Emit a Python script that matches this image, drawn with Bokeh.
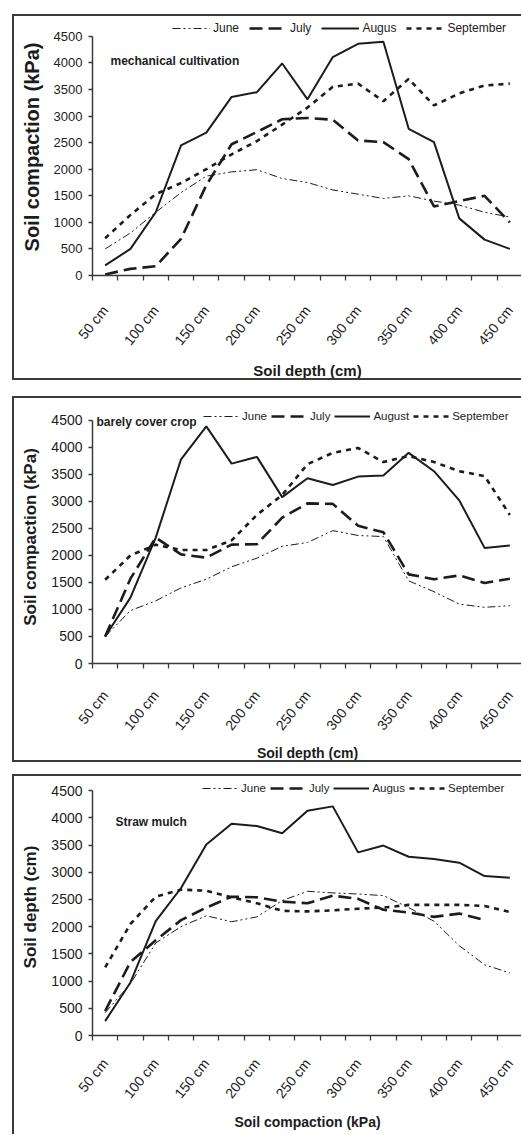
from bokeh.plotting import figure
from bokeh.models import Range1d, FixedTicker, Legend, LegendItem, Label
from bokeh.layouts import column
from bokeh.embed import file_html
from bokeh.resources import INLINE

# ---------------- data ----------------
depth_cm = [50, 75, 100, 125, 150, 175, 200, 225, 250, 275, 300, 325, 350, 375, 400, 425, 450]
label_depths = [50, 100, 150, 200, 250, 300, 350, 400, 450]
depth_labels = ["50 cm", "100 cm", "150 cm", "200 cm", "250 cm", "300 cm", "350 cm", "400 cm", "450 cm"]
y_ticks = [0, 500, 1000, 1500, 2000, 2500, 3000, 3500, 4000, 4500]

# panel 1: mechanical cultivation
mech_june = [500, 800, 1190, 1560, 1870, 1950, 1990, 1825, 1750, 1610, 1530, 1450, 1500, 1400, 1325, 1190, 1100]
mech_july = [20, 125, 175, 690, 1700, 2470, 2700, 2940, 2965, 2930, 2540, 2510, 2190, 1300, 1400, 1500, 1000]
mech_august = [190, 500, 1190, 2450, 2690, 3360, 3450, 3990, 3315, 4110, 4360, 4400, 2760, 2510, 1075, 675, 500]
mech_september = [700, 1140, 1530, 1740, 2000, 2280, 2530, 2840, 3160, 3550, 3610, 3280, 3700, 3200, 3425, 3575, 3610]

# panel 2: barely cover crop
cover_june = [500, 980, 1160, 1400, 1560, 1790, 1950, 2170, 2240, 2460, 2370, 2350, 1530, 1330, 1100, 1040, 1070]
cover_july = [500, 1570, 2330, 2020, 1960, 2200, 2210, 2700, 2965, 2955, 2550, 2430, 1650, 1560, 1630, 1490, 1570]
cover_august = [500, 1220, 2330, 3780, 4390, 3700, 3825, 3080, 3430, 3305, 3460, 3480, 3900, 3560, 3020, 2140, 2185]
cover_september = [1550, 2000, 2200, 2100, 2100, 2280, 2750, 3120, 3690, 3900, 3990, 3730, 3840, 3730, 3560, 3470, 2750]

# panel 3: straw mulch
straw_june = [420, 950, 1700, 2000, 2200, 2090, 2180, 2480, 2650, 2620, 2600, 2570, 2350, 2100, 1650, 1300, 1150]
straw_july = [450, 1350, 1750, 2120, 2350, 2550, 2540, 2460, 2430, 2570, 2510, 2310, 2260, 2180, 2240, 2120]
straw_august = [265, 975, 2100, 2710, 3510, 3890, 3850, 3715, 4130, 4210, 3365, 3490, 3285, 3245, 3175, 2930, 2900]
straw_september = [1250, 2050, 2550, 2680, 2660, 2540, 2430, 2290, 2280, 2300, 2330, 2350, 2400, 2400, 2400, 2380, 2270]

legend_p1 = ["June", "July", "Augus", "September"]
legend_p2 = ["June", "July", "August", "September"]
legend_p3 = ["June", "July", "Augus", "September"]

Y_MAX = 4500

# ---------------- styling ----------------
FONT = "Liberation Sans"
INK = "#1c1c1c"
AXC = "#3a3a3a"
styles_line = [
    dict(line_width=1.0, line_dash="8 3 2 3 2 3"),   # June
    dict(line_width=2.6, line_dash="13 6"),          # July
    dict(line_width=2.0, line_dash="solid"),         # August
    dict(line_width=2.6, line_dash="5 5"),           # September
]


def make_panel(series, legend_labels, title, xlabel, ylabel, *, margin, height,
               mb_left, mb_bottom, head_room, axis_h, ylab_size, xlab_size, ytick_size,
               xtick_standoff, xlab_standoff, legend_xy, legend_spacing,
               legend_font, legend_glyph_w, title_xy, bottom_border=True):
    # frame spans head_room + axis_h pixels; the value axis occupies the lower axis_h
    y_end = Y_MAX * (head_room + axis_h) / axis_h
    p = figure(width=509, height=height,
               x_range=Range1d(37.5, 462.5), y_range=Range1d(0, y_end),
               output_backend="svg", toolbar_location=None,
               min_border_left=mb_left, min_border_right=1,
               min_border_top=height - mb_bottom - head_room - axis_h - (4 if bottom_border else 2),
               min_border_bottom=mb_bottom,
               outline_line_color=None, background_fill_color="white",
               border_fill_color="white", margin=margin)
    border = "2px solid #3a3a3a"
    st = {"border-top": border, "border-left": border}
    if bottom_border:
        st["border-bottom"] = border
    p.styles = st
    p.xgrid.visible = False
    p.ygrid.visible = False

    bounds = [d - 12.5 for d in depth_cm] + [depth_cm[-1] + 12.5]
    xa = p.xaxis[0]
    xa.ticker = FixedTicker(ticks=label_depths, minor_ticks=bounds)
    xa.major_label_overrides = {float(d): s for d, s in zip(label_depths, depth_labels)}
    xa.major_tick_out = 0
    xa.major_tick_in = 0
    xa.minor_tick_out = 5
    xa.minor_tick_in = 0
    xa.minor_tick_line_color = AXC
    xa.minor_tick_line_width = 1.3
    xa.axis_line_color = AXC
    xa.axis_line_width = 1.5
    xa.major_label_orientation = 0.89
    xa.major_label_standoff = xtick_standoff
    xa.major_label_text_font = FONT
    xa.major_label_text_font_size = "14px"
    xa.major_label_text_color = INK
    xa.axis_label = xlabel
    xa.axis_label_text_font = FONT
    xa.axis_label_text_font_style = "bold"
    xa.axis_label_text_font_size = xlab_size
    xa.axis_label_text_color = INK
    xa.axis_label_standoff = xlab_standoff

    ya = p.yaxis[0]
    ya.ticker = FixedTicker(ticks=y_ticks, minor_ticks=[])
    ya.bounds = (0, Y_MAX)
    ya.major_tick_out = 4
    ya.major_tick_in = 0
    ya.major_tick_line_color = AXC
    ya.major_tick_line_width = 1.3
    ya.axis_line_color = AXC
    ya.axis_line_width = 1.5
    ya.major_label_standoff = 6
    ya.major_label_text_font = FONT
    ya.major_label_text_font_size = ytick_size
    ya.major_label_text_color = INK
    ya.axis_label = ylabel
    ya.axis_label_text_font = FONT
    ya.axis_label_text_font_style = "bold"
    ya.axis_label_text_font_size = ylab_size
    ya.axis_label_text_color = INK
    ya.axis_label_standoff = 8

    items = []
    for vals, lab, stl in zip(series, legend_labels, styles_line):
        r = p.line(depth_cm[:len(vals)], vals, line_color=INK, **stl)
        items.append(LegendItem(label=lab, renderers=[r]))

    leg = Legend(items=items, location=legend_xy, orientation="horizontal",
                 glyph_width=legend_glyph_w, glyph_height=12, label_height=12,
                 label_standoff=3, spacing=legend_spacing, padding=0, margin=0,
                 border_line_alpha=0, background_fill_alpha=0,
                 label_text_font=FONT, label_text_font_size=legend_font,
                 label_text_color=INK)
    p.add_layout(leg)

    p.add_layout(Label(x=title_xy[0], y=title_xy[1], x_units="screen", y_units="screen",
                       text=title, text_font=FONT, text_font_style="bold",
                       text_font_size="12px", text_baseline="middle", text_color=INK))
    return p


p1 = make_panel([mech_june, mech_july, mech_august, mech_september], legend_p1,
                "mechanical cultivation", "Soil depth (cm)", "Soil compaction (kPa)",
                margin=(14, 0, 0, 12), height=366, mb_left=68, mb_bottom=101,
                head_room=18, axis_h=241,
                ylab_size="20px", xlab_size="15px", ytick_size="13px",
                xtick_standoff=27, xlab_standoff=6,
                legend_xy=(80, 240), legend_spacing=10, legend_font="12px",
                legend_glyph_w=38, title_xy=(18, 215))

p2 = make_panel([cover_june, cover_july, cover_august, cover_september], legend_p2,
                "barely cover crop", "Soil depth (cm)", "Soil compaction (kPa)",
                margin=(16, 0, 0, 12), height=366, mb_left=75, mb_bottom=95,
                head_room=10, axis_h=245,
                ylab_size="17px", xlab_size="14px", ytick_size="14px",
                xtick_standoff=24, xlab_standoff=4,
                legend_xy=(111, 241), legend_spacing=4, legend_font="11.5px",
                legend_glyph_w=36, title_xy=(4, 242))

p3 = make_panel([straw_june, straw_july, straw_august, straw_september], legend_p3,
                "Straw mulch", "Soil compaction (kPa)", "Soil depth (cm)",
                margin=(12, 0, 0, 12), height=360, mb_left=78, mb_bottom=101,
                head_room=12, axis_h=243,
                ylab_size="17px", xlab_size="14px", ytick_size="14px",
                xtick_standoff=20, xlab_standoff=5,
                legend_xy=(110, 241), legend_spacing=4, legend_font="11.5px",
                legend_glyph_w=36, title_xy=(23, 214),
                bottom_border=False)

layout = column(p1, p2, p3)
open("out.html", "w").write(file_html(layout, INLINE))
